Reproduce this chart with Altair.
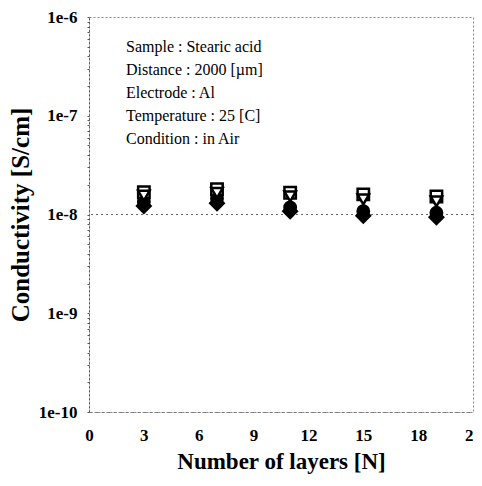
import altair as alt
import pandas as pd

layers = [3, 7, 11, 15, 19]
sq = [1.68e-8, 1.8e-8, 1.66e-8, 1.6e-8, 1.52e-8]
tri = [1.55e-8, 1.65e-8, 1.52e-8, 1.42e-8, 1.36e-8]
circ = [1.35e-8, 1.45e-8, 1.18e-8, 1.08e-8, 1.04e-8]
diam = [1.22e-8, 1.3e-8, 1.08e-8, 0.97e-8, 0.94e-8]

x_ticks = [0, 3, 6, 9, 12, 15, 18, 21]
y_major = [1e-6, 1e-7, 1e-8, 1e-9, 1e-10]
y_minor = [m * 10.0 ** e for e in range(-10, -6) for m in range(1, 10)] + [1e-6]

notes = "Sample : Stearic acid\nDistance : 2000 [µm]\nElectrode : Al\nTemperature : 25 [C]\nCondition : in Air"

rows = []
for name, vals in [("sq", sq), ("tri", tri), ("circ", circ), ("diam", diam)]:
    for x, v in zip(layers, vals):
        rows.append({"N": x, "val": v, "s": name})
df = pd.DataFrame(rows)

FONT = "Liberation Serif"

xs = alt.Scale(domain=[0, 21], nice=False)
ys = alt.Scale(type="log", domain=[1e-10, 1e-6], nice=False)

xax = alt.Axis(values=x_ticks, title="Number of layers [N]",
               grid=False, ticks=False, domainDash=[3, 3], domainColor="#777", labelFlush=False,
               labelFont=FONT, labelFontSize=17, labelFontWeight="bold", labelPadding=15,
               titleFont=FONT, titleFontSize=23, titleFontWeight="bold", titlePadding=7)
yax = alt.Axis(values=y_minor, title="Conductivity [S/cm]",
               labelExpr="abs(log(datum.value)/log(10) - round(log(datum.value)/log(10))) < 0.001 ? '1e' + round(log(datum.value)/log(10)) : ''",
               grid=False, tickSize=2, tickColor="#555", domainDash=[2, 2], domainColor="#555",
               labelFont=FONT, labelFontSize=17, labelFontWeight="bold", labelPadding=10,
               titleFont=FONT, titleFontSize=25, titleFontWeight="bold", titlePadding=5)

base = alt.Chart(df)

def pts(name, shape, filled):
    return base.transform_filter(alt.datum.s == name).mark_point(
        shape=shape, filled=True, size=130 if shape != "diamond" else 180,
        fill="black" if filled else "white", stroke="black", strokeWidth=2.5, opacity=1
    ).encode(x=alt.X("N:Q", scale=xs, axis=xax), y=alt.Y("val:Q", scale=ys, axis=yax))

rule = alt.Chart(pd.DataFrame({"v": [1e-8]})).mark_rule(strokeDash=[2, 3], color="#666", strokeWidth=1).encode(
    y=alt.Y("v:Q", scale=ys))

text = alt.Chart(pd.DataFrame({"t": [notes]})).mark_text(
    align="left", baseline="middle", font=FONT, fontSize=16, lineBreak="\n", lineHeight=23, color="black"
).encode(x=alt.value(37), y=alt.value(30), text="t:N")

chart = alt.layer(
    rule,
    pts("diam", "diamond", True),
    pts("circ", "circle", True),
    pts("sq", "square", False),
    pts("tri", "triangle-down", False),
    text,
).properties(
    width=384, height=395,
    autosize=alt.AutoSizeParams(type="none"),
    padding={"left": 81, "top": 9, "right": 1, "bottom": 66},
).configure_view(stroke="#888", strokeDash=[2, 2], strokeWidth=1)

chart.save("out.html", embed_options={"renderer": "svg", "actions": False})
